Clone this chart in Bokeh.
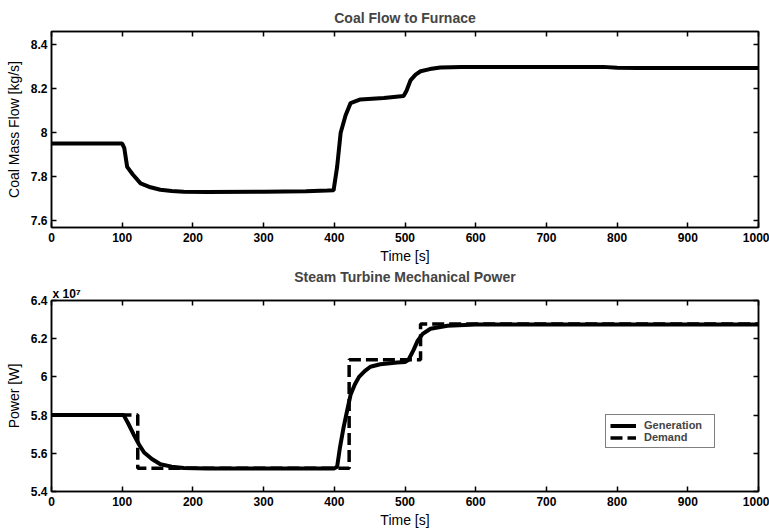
from bokeh.plotting import figure
from bokeh.layouts import column
from bokeh.models import (LinearAxis, FixedTicker, NumeralTickFormatter, Range1d,
                          Legend, LegendItem, Title)
from bokeh.embed import file_html
from bokeh.resources import INLINE

# ---------------- data ----------------
x_ticks = [0, 100, 200, 300, 400, 500, 600, 700, 800, 900, 1000]
coal_ticks = [7.6, 7.8, 8.0, 8.2, 8.4]
power_ticks = [5.4, 5.6, 5.8, 6.0, 6.2, 6.4]

coal_t = [0, 100, 103, 107, 115, 126, 140, 154, 170, 187, 220, 300, 360, 390, 399,
          404, 409, 416, 423, 437, 470, 498, 502, 508, 515, 522, 535, 550, 580,
          700, 780, 800, 830, 900, 1000]
coal_v = [7.951, 7.951, 7.93, 7.845, 7.81, 7.77, 7.752, 7.741, 7.735, 7.732, 7.731,
          7.732, 7.734, 7.737, 7.738, 7.845, 8.0, 8.08, 8.135, 8.152, 8.158, 8.167,
          8.19, 8.24, 8.265, 8.28, 8.29, 8.297, 8.30, 8.30, 8.30, 8.296, 8.295,
          8.295, 8.295]

gen_t = [0, 102, 108, 116, 124, 131, 142, 154, 170, 187, 220, 300, 400, 404, 408,
         413, 418, 423, 429, 435, 443, 451, 465, 489, 500, 505, 512, 518, 525, 536,
         560, 600, 800, 1000]
gen_w = [5.80e7, 5.80e7, 5.76e7, 5.70e7, 5.645e7, 5.604e7, 5.57e7, 5.543e7,
         5.53e7, 5.523e7, 5.521e7, 5.521e7, 5.521e7, 5.53e7, 5.63e7, 5.733e7,
         5.82e7, 5.906e7, 5.96e7, 6.0e7, 6.03e7, 6.053e7, 6.066e7, 6.075e7,
         6.078e7, 6.09e7, 6.14e7, 6.19e7, 6.225e7, 6.252e7, 6.268e7, 6.274e7,
         6.275e7, 6.275e7]

dem_t = [0, 122, 122, 421, 421, 522, 522, 1000]
dem_w = [5.80e7, 5.80e7, 5.522e7, 5.522e7, 6.09e7, 6.09e7, 6.277e7, 6.277e7]

power_scale = 1e7
power_exp_text = "x 10\u2077"
gen_v = [w / power_scale for w in gen_w]
dem_v = [w / power_scale for w in dem_w]

FONT = "Liberation Sans"


def style(p, yticks, title_standoff):
    p.xgrid.visible = False
    p.ygrid.visible = False
    p.outline_line_color = "black"
    p.outline_line_width = 1.5
    p.background_fill_color = "white"
    p.border_fill_color = "white"
    p.title.text_font = FONT
    p.title.text_font_style = "bold"
    p.title.text_font_size = "14px"
    p.title.align = "center"
    p.title.standoff = title_standoff
    for ax in (p.xaxis[0], p.yaxis[0]):
        ax.major_tick_in = 5
        ax.major_tick_out = 0
        ax.minor_tick_line_color = None
        ax.axis_line_width = 1.5
        ax.axis_line_color = "black"
        ax.major_tick_line_width = 1.5
        ax.major_label_text_font = FONT
        ax.major_label_text_font_style = "bold"
        ax.major_label_text_font_size = "12px"
        ax.major_label_text_color = "black"
        ax.axis_label_text_font = FONT
        ax.axis_label_text_font_style = "normal"
        ax.axis_label_text_font_size = "14px"
        ax.axis_label_text_color = "black"
    p.xaxis[0].ticker = FixedTicker(ticks=x_ticks)
    p.xaxis[0].major_label_standoff = 5
    p.xaxis[0].axis_label_standoff = 3
    p.yaxis[0].ticker = FixedTicker(ticks=yticks)
    p.yaxis[0].formatter = NumeralTickFormatter(format="0.[0]")
    p.yaxis[0].major_label_standoff = 4
    p.yaxis[0].axis_label_standoff = 6
    for loc, tk in (("above", x_ticks), ("right", yticks)):
        ax = LinearAxis(ticker=FixedTicker(ticks=tk), major_label_text_color=None,
                        major_label_text_font_size="0px", major_tick_in=5,
                        major_tick_out=0, minor_tick_line_color=None,
                        axis_line_width=1.5, major_tick_line_width=1.5,
                        major_label_standoff=0, axis_label_standoff=0)
        p.add_layout(ax, loc)


# ---------------- top figure ----------------
p1 = figure(width=769, height=266, output_backend="svg", toolbar_location=None,
            title="Coal Flow to Furnace",
            x_range=Range1d(0, 1000), y_range=Range1d(7.569, 8.461),
            x_axis_label="Time [s]", y_axis_label="Coal Mass Flow [kg/s]",
            min_border_left=51, min_border_right=11, min_border_top=31,
            min_border_bottom=39)
p1.line(coal_t, coal_v, line_color="black", line_width=4)
style(p1, coal_ticks, 12)

# ---------------- bottom figure ----------------
p2 = figure(width=769, height=264, output_backend="svg", toolbar_location=None,
            title="Steam Turbine Mechanical Power",
            x_range=Range1d(0, 1000), y_range=Range1d(5.4, 6.4),
            x_axis_label="Time [s]", y_axis_label="Power [W]",
            min_border_left=51, min_border_right=11, min_border_top=30,
            min_border_bottom=39)
r_gen = p2.line(gen_t, gen_v, line_color="black", line_width=4)
r_dem = p2.line(dem_t, dem_v, line_color="black", line_width=3.5, line_dash="12 5")
style(p2, power_ticks, 0)

exp_title = Title(text=power_exp_text, align="left", offset=1, standoff=0,
                  text_font=FONT, text_font_size="12px", text_font_style="bold",
                  text_color="black")
p2.add_layout(exp_title, "above")

legend = Legend(items=[LegendItem(label="Generation", renderers=[r_gen]),
                       LegendItem(label="Demand", renderers=[r_dem])],
                location=(554, 43))
legend.border_line_color = "black"
legend.border_line_width = 1.5
legend.label_text_font = FONT
legend.label_text_font_size = "11px"
legend.label_text_font_style = "bold"
legend.glyph_width = 26
legend.glyph_height = 11
legend.label_height = 11
legend.label_width = 66
legend.spacing = 0
legend.padding = 4
legend.margin = 0
legend.label_standoff = 8
legend.background_fill_alpha = 1.0
p2.add_layout(legend, "center")

layout = column(p1, p2, spacing=0)
open("out.html", "w").write(file_html(layout, INLINE))
